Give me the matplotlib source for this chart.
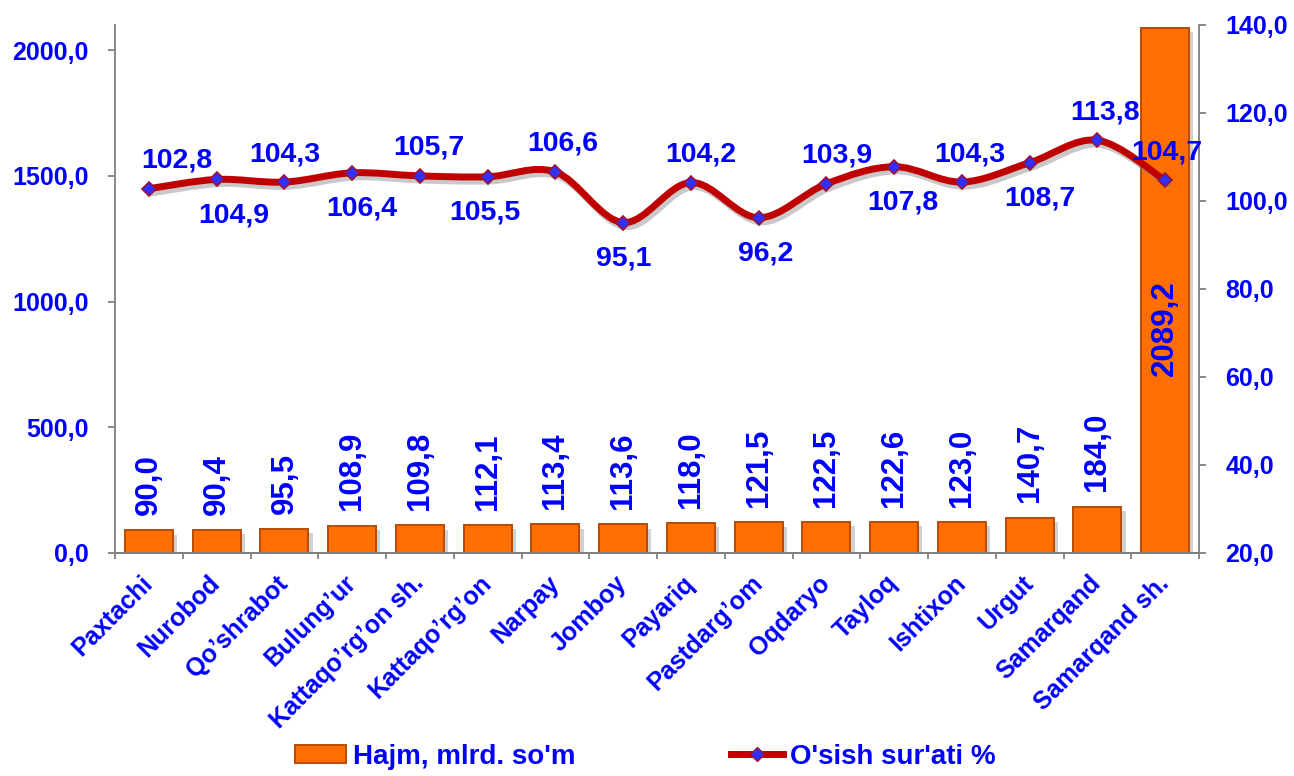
import numpy as np
import matplotlib
matplotlib.use('Agg')
import matplotlib.pyplot as plt
from matplotlib.path import Path
from matplotlib.patches import PathPatch, Patch
from matplotlib.lines import Line2D
import matplotlib.patheffects as pe

categories = ["Paxtachi", "Nurobod", "Qo’shrabot", "Bulung’ur", "Kattaqo’rg’on sh.",
              "Kattaqo’rg’on", "Narpay", "Jomboy", "Payariq", "Pastdarg’om", "Oqdaryo",
              "Tayloq", "Ishtixon", "Urgut", "Samarqand", "Samarqand sh."]
volume = [90.0, 90.4, 95.5, 108.9, 109.8, 112.1, 113.4, 113.6, 118.0, 121.5,
          122.5, 122.6, 123.0, 140.7, 184.0, 2089.2]
growth = [102.8, 104.9, 104.3, 106.4, 105.7, 105.5, 106.6, 95.1, 104.2, 96.2,
          103.9, 107.8, 104.3, 108.7, 113.8, 104.7]
left_ticks = [0, 500, 1000, 1500, 2000]
right_ticks = [20, 40, 60, 80, 100, 120, 140]
legend_labels = ["Hajm, mlrd. so'm", "O'sish sur'ati %"]

BLUE = '#0000FF'
FONT = 'Liberation Sans'
plt.rcParams['font.family'] = [FONT, 'DejaVu Sans']
plt.rcParams['font.weight'] = 'bold'

def fmt(v):
    return f"{v:.1f}".replace('.', ',')

fig = plt.figure(figsize=(12.94, 7.76), dpi=100)
ax = fig.add_axes([0.0889, 0.2874, 0.8377, 0.6804])
x = np.arange(len(categories))

bar_fx = [pe.SimplePatchShadow(offset=(3, -3), shadow_rgbFace='#999999', alpha=0.45), pe.Normal()]
bars = ax.bar(x, volume, width=0.71, color='#FF6E00', edgecolor='#B84C00',
              linewidth=1.4, zorder=2)
for b in bars:
    b.set_path_effects(bar_fx)

ax.set_xlim(-0.5, len(categories) - 0.5)
ax.set_ylim(0, 2100)
ax.set_yticks(left_ticks)
ax.set_yticklabels([fmt(v) for v in left_ticks])

ax2 = ax.twinx()
ax2.set_ylim(20, 140)
ax2.set_yticks(right_ticks)
ax2.set_yticklabels([fmt(v) for v in right_ticks])

for a in (ax, ax2):
    a.spines['top'].set_visible(False)
    for s in ('left', 'right', 'bottom'):
        a.spines[s].set_color('#808080')
        a.spines[s].set_linewidth(1.3)
    a.tick_params(axis='y', colors='#808080', labelcolor=BLUE, labelsize=18,
                  length=5, width=1.3, direction='out', pad=14)
ax2.spines['left'].set_visible(False)
ax.spines['right'].set_visible(False)

# x axis: labels at centres, ticks at boundaries
ax.set_xticks(x)
ax.set_xticklabels(categories, rotation=45, ha='right', va='center',
                   rotation_mode='anchor', color=BLUE, fontsize=18, fontweight='bold')
ax.tick_params(axis='x', which='major', length=0, pad=19)
ax.set_xticks(np.arange(len(categories) + 1) - 0.5, minor=True)
ax.tick_params(axis='x', which='minor', length=4.5, width=1.3, color='#808080', direction='out')
for lab in ax.get_xticklabels():
    lab.set_x(lab.get_position()[0])
for lab in ax.get_yticklabels() + ax2.get_yticklabels():
    lab.set_fontweight('bold')

# bar labels
for i, v in enumerate(volume):
    if i < len(volume) - 1:
        ax.annotate(fmt(v), (i, v), xytext=(0, 11), textcoords='offset points',
                    rotation=90, ha='center', va='bottom', color=BLUE,
                    fontsize=22.5, fontweight='bold', zorder=5)
    else:
        ax.text(i, 895, fmt(v), rotation=90, ha='center', va='center', color=BLUE,
                fontsize=22.5, fontweight='bold', zorder=5)

# smoothed line (Catmull-Rom as cubic Bezier)
gx = np.arange(len(growth), dtype=float)
gy = np.array(growth, dtype=float)
pts = np.column_stack([gx, gy])
verts = [pts[0]]
codes = [Path.MOVETO]
n = len(pts)
for i in range(n - 1):
    p0 = pts[i - 1] if i > 0 else pts[i]
    p1 = pts[i]
    p2 = pts[i + 1]
    p3 = pts[i + 2] if i + 2 < n else pts[i + 1]
    c1 = p1 + (p2 - p0) / 6.0
    c2 = p2 - (p3 - p1) / 6.0
    verts += [c1, c2, p2]
    codes += [Path.CURVE4] * 3
curve = PathPatch(Path(verts, codes), facecolor='none', edgecolor='#C00000',
                  linewidth=5, zorder=3, capstyle='round', joinstyle='round')
curve.set_path_effects([pe.SimpleLineShadow(offset=(2, -3), shadow_color='#888888', alpha=0.45),
                        pe.Normal()])
ax2.add_patch(curve)
ax2.plot(gx, gy, linestyle='none', marker='D', markersize=7, markerfacecolor='#3030FF',
         markeredgecolor='#A01030', markeredgewidth=1.2, zorder=4)

label_above = [True, False, True, False, True, False, True, False, True, False,
               True, False, True, False, True, True]
dx_px = [28, 17, 0, 10, 9, -3, 7, 1, 10, 7, 10, 9, 8, 10, 8, 2]
for i, v in enumerate(growth):
    dy = 28 if label_above[i] else -36
    ax2.annotate(fmt(v), (i, v), xytext=(dx_px[i] / 1.389, dy / 1.389),
                 textcoords='offset points', ha='center', va='center', color=BLUE,
                 fontsize=20.5, fontweight='bold', zorder=6)

# legend
handles = [Patch(facecolor='#FF6E00', edgecolor='#B84C00', linewidth=1.4),
           Line2D([], [], color='#C00000', linewidth=5, marker='D', markersize=7,
                  markerfacecolor='#3030FF', markeredgecolor='#A01030')]
leg = fig.legend(handles, legend_labels, loc='center', ncol=2,
                 bbox_to_anchor=(0.4985, 0.025), frameon=False, columnspacing=5.6,
                 handlelength=1.85, handleheight=0.6, handletextpad=0.25,
                 borderpad=0.1, prop={'family': FONT, 'weight': 'bold', 'size': 20})
for t in leg.get_texts():
    t.set_color(BLUE)

fig.savefig('out.png', dpi=100)
